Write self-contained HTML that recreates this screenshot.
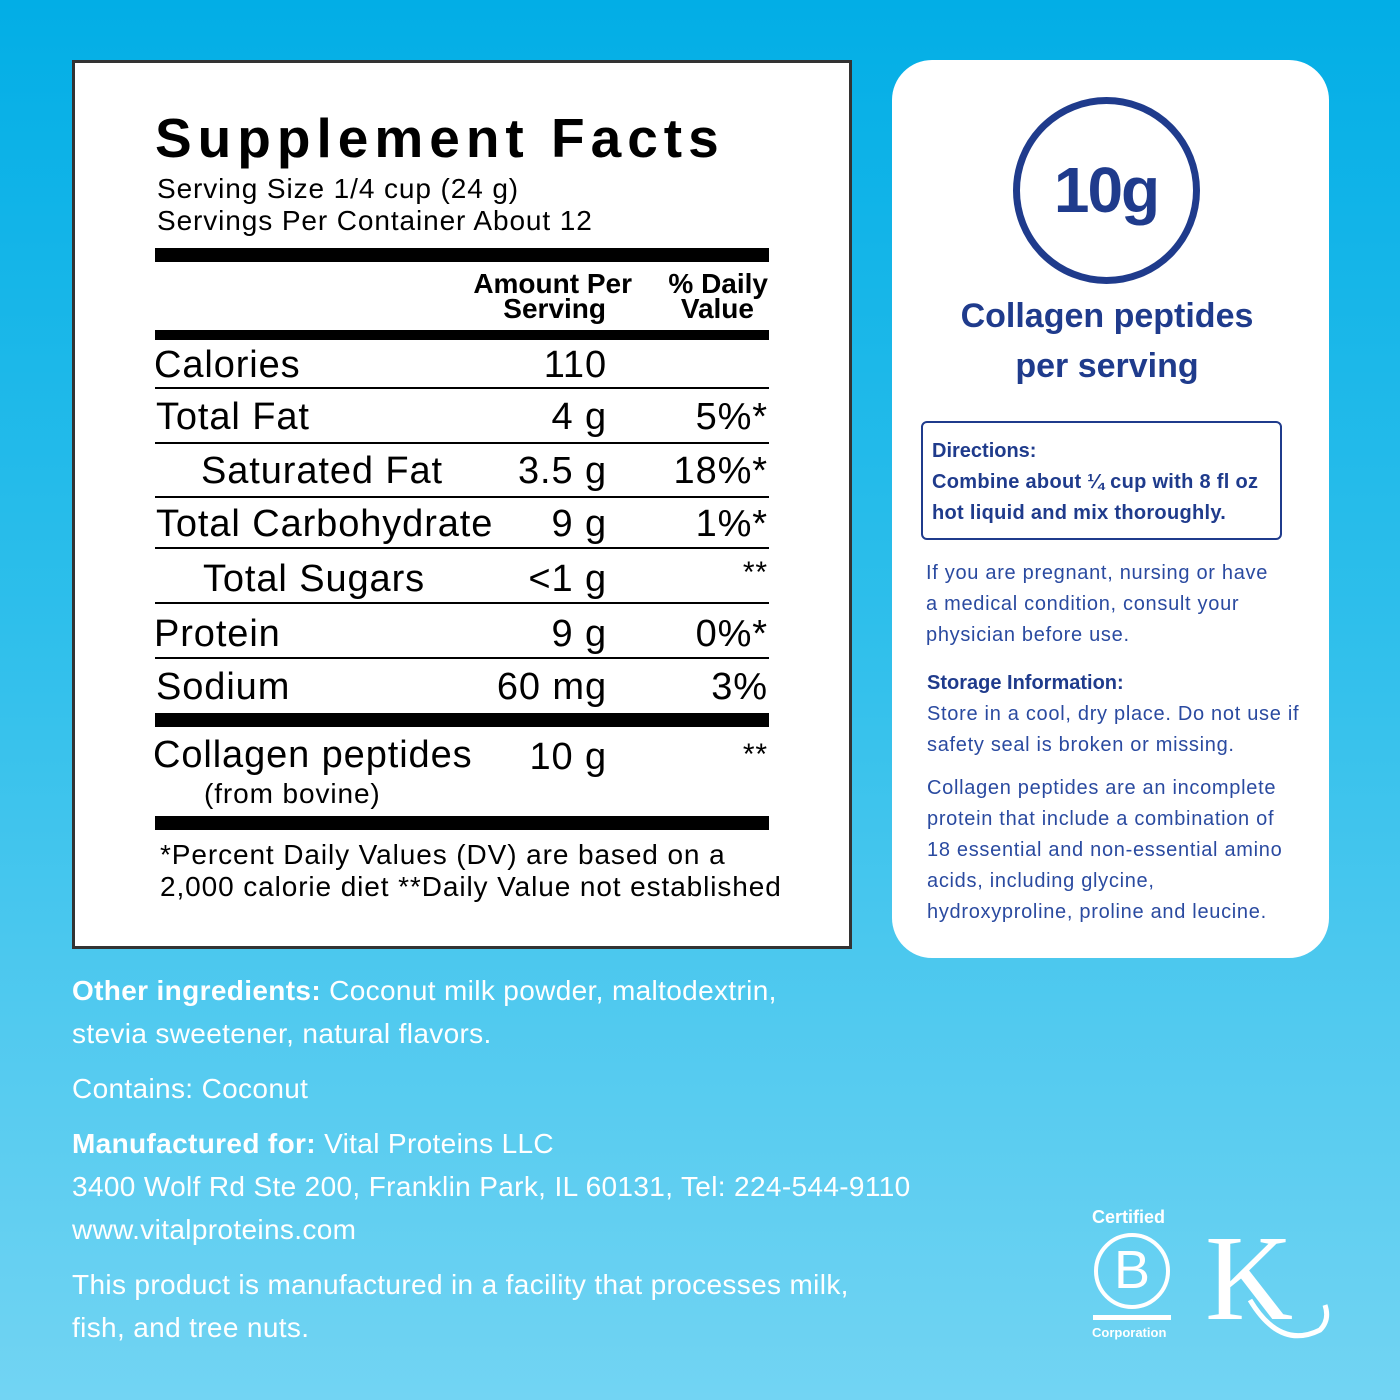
<!DOCTYPE html>
<html><head><style>
*{margin:0;padding:0;box-sizing:border-box}
body{width:1400px;height:1400px;position:relative;overflow:hidden;font-family:"Liberation Sans",sans-serif;background:linear-gradient(180deg,#02aee6 0%,#2fbfeb 45%,#72d4f3 100%)}
.a{position:absolute;white-space:nowrap;line-height:1}
.label{position:absolute;left:72px;top:60px;width:780px;height:889px;background:#fff;border:3px solid #333}
.bar{position:absolute;left:155px;width:614px;background:#000}
.ln{position:absolute;left:155px;width:614px;height:2px;background:#000}
.r{font-size:38px;color:#000;letter-spacing:0.9px}
.card{position:absolute;left:892px;top:60px;width:437px;height:898px;background:#fff;border-radius:40px}
.n{color:#1f3b8c}
.s{font-size:20px;color:#2a4aa0;letter-spacing:0.7px}
.w{color:#fff;font-size:28px;letter-spacing:0.35px}
.f{font-size:28px;letter-spacing:0.9px}
</style></head><body>
<div class="label"></div>
<div class="a" style="left:155px;top:111px;font-size:55px;font-weight:bold;letter-spacing:6px">Supplement Facts</div>
<div class="a f" style="left:157px;top:175px">Serving Size 1/4 cup (24 g)</div>
<div class="a f" style="left:157px;top:207px">Servings Per Container About 12</div>
<div class="bar" style="top:248px;height:14px"></div>
<div class="a" style="left:430px;width:202px;text-align:right;top:270px;font-size:28px;font-weight:bold">Amount Per</div>
<div class="a" style="left:430px;width:176px;text-align:right;top:295px;font-size:28px;font-weight:bold">Serving</div>
<div class="a" style="left:640px;width:128px;text-align:right;top:270px;font-size:28px;font-weight:bold">% Daily</div>
<div class="a" style="left:640px;width:114px;text-align:right;top:295px;font-size:28px;font-weight:bold">Value</div>
<div class="bar" style="top:330px;height:10px"></div>
<div class="a r" style="left:154px;top:346px">Calories</div><div class="a r" style="left:400px;width:207px;text-align:right;top:346px">110</div>
<div class="ln" style="top:387px"></div>
<div class="a r" style="left:156px;top:398px">Total Fat</div><div class="a r" style="left:400px;width:207px;text-align:right;top:398px">4 g</div><div class="a r" style="left:600px;width:168px;text-align:right;top:398px">5%*</div>
<div class="ln" style="top:442px"></div>
<div class="a r" style="left:201px;top:452px">Saturated Fat</div><div class="a r" style="left:400px;width:207px;text-align:right;top:452px">3.5 g</div><div class="a r" style="left:600px;width:168px;text-align:right;top:452px">18%*</div>
<div class="ln" style="top:496px"></div>
<div class="a r" style="left:156px;top:505px">Total Carbohydrate</div><div class="a r" style="left:400px;width:207px;text-align:right;top:505px">9 g</div><div class="a r" style="left:600px;width:168px;text-align:right;top:505px">1%*</div>
<div class="ln" style="top:547px"></div>
<div class="a r" style="left:203px;top:560px">Total Sugars</div><div class="a r" style="left:400px;width:207px;text-align:right;top:560px">&lt;1 g</div><div class="a r" style="left:600px;width:168px;text-align:right;top:558px;font-size:30px">**</div>
<div class="ln" style="top:602px"></div>
<div class="a r" style="left:154px;top:615px">Protein</div><div class="a r" style="left:400px;width:207px;text-align:right;top:615px">9 g</div><div class="a r" style="left:600px;width:168px;text-align:right;top:615px">0%*</div>
<div class="ln" style="top:657px"></div>
<div class="a r" style="left:156px;top:668px">Sodium</div><div class="a r" style="left:400px;width:207px;text-align:right;top:668px">60 mg</div><div class="a r" style="left:600px;width:168px;text-align:right;top:668px">3%</div>
<div class="bar" style="top:713px;height:14px"></div>
<div class="a r" style="left:153px;top:736px">Collagen peptides</div><div class="a r" style="left:400px;width:207px;text-align:right;top:738px">10 g</div><div class="a r" style="left:600px;width:168px;text-align:right;top:740px;font-size:30px">**</div>
<div class="a f" style="left:204px;top:780px">(from bovine)</div>
<div class="bar" style="top:816px;height:14px"></div>
<div class="a f" style="left:160px;top:841px">*Percent Daily Values (DV) are based on a</div>
<div class="a f" style="left:160px;top:873px">2,000 calorie diet **Daily Value not established</div>

<div class="card"></div>
<div style="position:absolute;left:1013px;top:97px;width:187px;height:187px;border:7px solid #1f3b8c;border-radius:50%"></div>
<div class="a n" style="left:1006px;width:200px;text-align:center;top:158px;font-size:64px;font-weight:bold;letter-spacing:-2px">10g</div>
<div class="a n" style="left:900px;width:414px;text-align:center;top:299px;font-size:34px;font-weight:bold">Collagen peptides</div>
<div class="a n" style="left:900px;width:414px;text-align:center;top:349px;font-size:34px;font-weight:bold">per serving</div>
<div style="position:absolute;left:921px;top:421px;width:361px;height:119px;border:2px solid #1f3b8c;border-radius:6px"></div>
<div class="a n" style="left:932px;top:441px;font-size:20px;font-weight:bold">Directions:</div>
<div class="a n" style="left:932px;top:472px;font-size:20px;font-weight:bold;letter-spacing:0.3px">Combine about ¼ cup with 8 fl oz</div>
<div class="a n" style="left:932px;top:503px;font-size:20px;font-weight:bold;letter-spacing:0.3px">hot liquid and mix thoroughly.</div>
<div class="a s" style="left:926px;top:563px">If you are pregnant, nursing or have</div>
<div class="a s" style="left:926px;top:594px">a medical condition, consult your</div>
<div class="a s" style="left:926px;top:625px">physician before use.</div>
<div class="a n" style="left:927px;top:673px;font-size:20px;font-weight:bold">Storage Information:</div>
<div class="a s" style="left:927px;top:704px">Store in a cool, dry place. Do not use if</div>
<div class="a s" style="left:927px;top:735px">safety seal is broken or missing.</div>
<div class="a s" style="left:927px;top:778px">Collagen peptides are an incomplete</div>
<div class="a s" style="left:927px;top:809px">protein that include a combination of</div>
<div class="a s" style="left:927px;top:840px">18 essential and non-essential amino</div>
<div class="a s" style="left:927px;top:871px">acids, including glycine,</div>
<div class="a s" style="left:927px;top:902px">hydroxyproline, proline and leucine.</div>

<div class="a w" style="left:72px;top:977px"><b>Other ingredients:</b> Coconut milk powder, maltodextrin,</div>
<div class="a w" style="left:72px;top:1020px">stevia sweetener, natural flavors.</div>
<div class="a w" style="left:72px;top:1075px">Contains: Coconut</div>
<div class="a w" style="left:72px;top:1130px"><b>Manufactured for:</b> Vital Proteins LLC</div>
<div class="a w" style="left:72px;top:1173px">3400 Wolf Rd Ste 200, Franklin Park, IL 60131, Tel: 224-544-9110</div>
<div class="a w" style="left:72px;top:1216px">www.vitalproteins.com</div>
<div class="a w" style="left:72px;top:1271px">This product is manufactured in a facility that processes milk,</div>
<div class="a w" style="left:72px;top:1314px">fish, and tree nuts.</div>

<div class="a" style="left:1092px;top:1208px;font-size:18px;font-weight:bold;color:#fff">Certified</div>
<div style="position:absolute;left:1094px;top:1233px;width:76px;height:76px;border:4px solid #fff;border-radius:50%"></div>
<div class="a" style="left:1094px;top:1243px;width:76px;text-align:center;font-size:54px;color:#fff">B</div>
<div style="position:absolute;left:1093px;top:1315px;width:78px;height:5px;background:#fff"></div>
<div class="a" style="left:1092px;top:1326px;font-size:13px;font-weight:bold;color:#fff">Corporation</div>
<div class="a" style="left:1205px;top:1218px;font-size:122px;font-family:'Liberation Serif',serif;color:#fff">K</div>
<svg style="position:absolute;left:1240px;top:1280px" width="95" height="65"><path d="M10 20 Q40 70 80 50 Q90 40 85 25" stroke="#fff" stroke-width="5" fill="none"/></svg>
</body></html>
